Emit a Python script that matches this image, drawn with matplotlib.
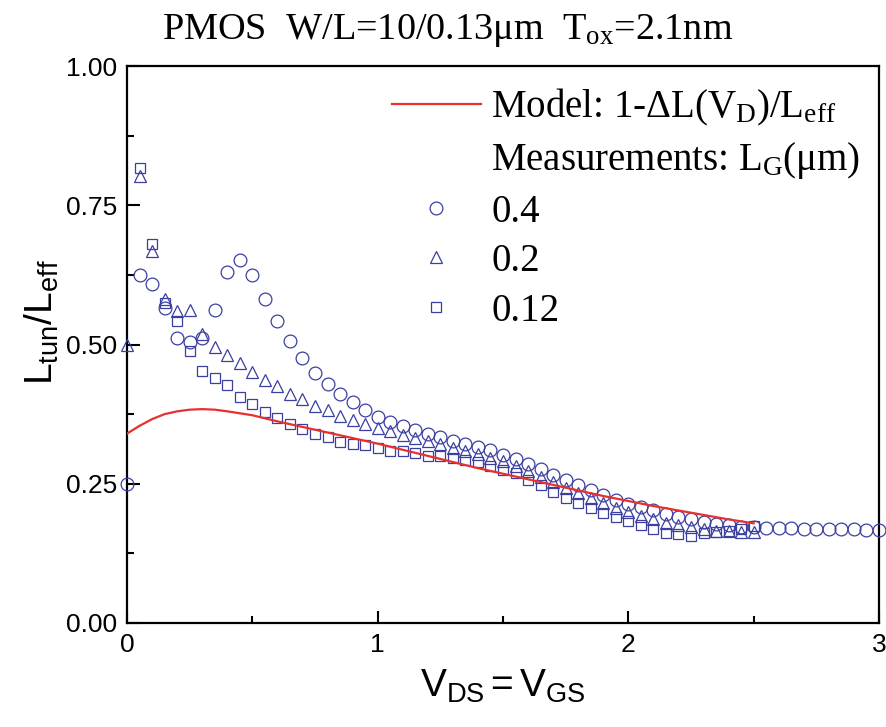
import matplotlib
matplotlib.use("Agg")
import matplotlib.pyplot as plt
from matplotlib.lines import Line2D
from matplotlib.ticker import MultipleLocator, FormatStrFormatter

plt.rcParams["font.family"] = ["Liberation Sans", "DejaVu Sans"]
plt.rcParams["mathtext.fontset"] = "custom"
plt.rcParams["mathtext.rm"] = "Liberation Serif"
plt.rcParams["mathtext.it"] = "Liberation Serif:italic"
plt.rcParams["mathtext.sf"] = "Liberation Sans"

# measured L_tun/L_eff, V_DS = V_GS in 0.05 V steps
v_04 = [0.00, 0.05, 0.10, 0.15, 0.20, 0.25, 0.30, 0.35, 0.40, 0.45, 0.50, 0.55, 0.60, 0.65, 0.70,
        0.75, 0.80, 0.85, 0.90, 0.95, 1.00, 1.05, 1.10, 1.15, 1.20, 1.25, 1.30, 1.35, 1.40, 1.45,
        1.50, 1.55, 1.60, 1.65, 1.70, 1.75, 1.80, 1.85, 1.90, 1.95, 2.00, 2.05, 2.10, 2.15, 2.20,
        2.25, 2.30, 2.35, 2.40, 2.45, 2.50, 2.55, 2.60, 2.65, 2.70, 2.75, 2.80, 2.85, 2.90, 2.95, 3.00]
l_04 = [0.250, 0.624, 0.609, 0.566, 0.512, 0.504, 0.512, 0.562, 0.630, 0.651, 0.624, 0.582, 0.542, 0.506, 0.476,
        0.449, 0.429, 0.411, 0.397, 0.383, 0.370, 0.361, 0.354, 0.347, 0.340, 0.334, 0.327, 0.321, 0.316, 0.311,
        0.302, 0.294, 0.285, 0.276, 0.266, 0.257, 0.247, 0.239, 0.230, 0.221, 0.214, 0.208, 0.202, 0.196, 0.191,
        0.186, 0.182, 0.178, 0.176, 0.173, 0.173, 0.171, 0.170, 0.170, 0.169, 0.169, 0.168, 0.168, 0.168, 0.167, 0.167]

v_02 = [0.00, 0.05, 0.10, 0.15, 0.20, 0.25, 0.30, 0.35, 0.40, 0.45, 0.50, 0.55, 0.60, 0.65, 0.70,
        0.75, 0.80, 0.85, 0.90, 0.95, 1.00, 1.05, 1.10, 1.15, 1.20, 1.25, 1.30, 1.35, 1.40, 1.45,
        1.50, 1.55, 1.60, 1.65, 1.70, 1.75, 1.80, 1.85, 1.90, 1.95, 2.00, 2.05, 2.10, 2.15, 2.20,
        2.25, 2.30, 2.35, 2.40, 2.45, 2.50]
l_02 = [0.500, 0.802, 0.668, 0.581, 0.560, 0.562, 0.519, 0.495, 0.482, 0.466, 0.451, 0.437, 0.425, 0.412, 0.403,
        0.389, 0.382, 0.372, 0.364, 0.357, 0.350, 0.344, 0.338, 0.332, 0.327, 0.321, 0.315, 0.309, 0.303, 0.297,
        0.290, 0.282, 0.272, 0.263, 0.253, 0.243, 0.233, 0.224, 0.215, 0.207, 0.199, 0.192, 0.186, 0.180, 0.176,
        0.172, 0.168, 0.166, 0.165, 0.164, 0.164]

v_012 = [0.05, 0.10, 0.15, 0.20, 0.25, 0.30, 0.35, 0.40, 0.45, 0.50, 0.55, 0.60, 0.65, 0.70,
         0.75, 0.80, 0.85, 0.90, 0.95, 1.00, 1.05, 1.10, 1.15, 1.20, 1.25, 1.30, 1.35, 1.40, 1.45,
         1.50, 1.55, 1.60, 1.65, 1.70, 1.75, 1.80, 1.85, 1.90, 1.95, 2.00, 2.05, 2.10, 2.15, 2.20,
         2.25, 2.30, 2.35, 2.40, 2.45, 2.50]
l_012 = [0.817, 0.680, 0.575, 0.542, 0.488, 0.452, 0.440, 0.428, 0.406, 0.393, 0.379, 0.368, 0.357, 0.349,
         0.340, 0.334, 0.325, 0.321, 0.319, 0.314, 0.309, 0.308, 0.305, 0.300, 0.300, 0.297, 0.293, 0.289, 0.282,
         0.275, 0.269, 0.256, 0.247, 0.236, 0.224, 0.215, 0.206, 0.197, 0.190, 0.184, 0.176, 0.168, 0.162, 0.159,
         0.157, 0.161, 0.164, 0.166, 0.169, 0.175]

# model curve 1 - dL(V_D)/L_eff
v_model = [0.00, 0.05, 0.10, 0.15, 0.20, 0.25, 0.30, 0.35, 0.40, 0.50, 0.60, 0.70, 0.80, 0.90, 1.00,
           1.10, 1.20, 1.30, 1.40, 1.50, 1.60, 1.70, 1.80, 1.90, 2.00, 2.10, 2.20, 2.30, 2.40, 2.50]
l_model = [0.340, 0.354, 0.366, 0.375, 0.380, 0.383, 0.384, 0.383, 0.380, 0.373, 0.362, 0.352, 0.342, 0.332, 0.322,
           0.311, 0.300, 0.289, 0.278, 0.268, 0.258, 0.248, 0.238, 0.228, 0.219, 0.210, 0.202, 0.194, 0.186, 0.179]

blue = "#3b3fa0"
red = "#e8302f"

fig = plt.figure(figsize=(8.87, 7.27), dpi=100)
ax = fig.add_axes([127 / 887, 1 - 623 / 727, (879 - 127) / 887, (623 - 66) / 727])

mk = dict(linestyle="none", markerfacecolor="none", markeredgecolor=blue, markeredgewidth=0.9)
ax.plot(v_04, l_04, marker="o", markersize=9.2, zorder=3, clip_on=False, **mk)
ax.plot(v_02, l_02, marker="^", markersize=8.6, zorder=3, clip_on=False, **mk)
ax.plot(v_012, l_012, marker="s", markersize=7.4, zorder=3, clip_on=False, **mk)
ax.plot(v_model, l_model, color=red, linewidth=1.6, zorder=4)

ax.set_xlim(0, 3)
ax.set_ylim(0, 1)
ax.xaxis.set_major_locator(MultipleLocator(1))
ax.xaxis.set_minor_locator(MultipleLocator(0.5))
ax.yaxis.set_major_locator(MultipleLocator(0.25))
ax.yaxis.set_minor_locator(MultipleLocator(0.125))
ax.xaxis.set_major_formatter(FormatStrFormatter("%d"))
ax.yaxis.set_major_formatter(FormatStrFormatter("%.2f"))
ax.tick_params(which="both", direction="in", width=1.5, labelsize=19, pad=7)
ax.tick_params(which="major", length=9)
ax.tick_params(which="minor", length=5)
for sp in ax.spines.values():
    sp.set_linewidth(1.6)

ax.set_xlabel(r"$\mathsf{V_{DS}{=}V_{GS}}$", fontsize=28, labelpad=8)
ax.set_ylabel(r"$\mathsf{L_{tun}/L_{eff}}$", fontsize=28)
ax.yaxis.set_label_coords(-0.088, 0.54)

fig.text(0.505, 0.958, r"PMOS  W/L=10/0.13μm  T$_{\mathrm{ox}}$=2.1nm",
         ha="center", va="center", fontsize=27.5, family="Liberation Serif")

handles = [
    Line2D([], [], color=red, linewidth=1.6),
    Line2D([], [], linestyle="none"),
    Line2D([], [], marker="o", markersize=9.2, **mk),
    Line2D([], [], marker="^", markersize=8.6, **mk),
    Line2D([], [], marker="s", markersize=7.4, **mk),
]
labels = [
    r"Model: 1-$\Delta$L(V$_{\mathrm{D}}$)/L$_{\mathrm{eff}}$",
    r"Measurements: L$_{\mathrm{G}}$(μm)",
    "0.4",
    "0.2",
    "0.12",
]
ax.legend(handles, labels, loc="upper left", bbox_to_anchor=(0.352, 0.963), frameon=False,
          prop={"family": "Liberation Serif", "size": 28}, handlelength=2.3, handletextpad=0.26,
          labelspacing=0.32, markerscale=1.0, borderpad=0, borderaxespad=0)

fig.savefig("out.png", dpi=100)
